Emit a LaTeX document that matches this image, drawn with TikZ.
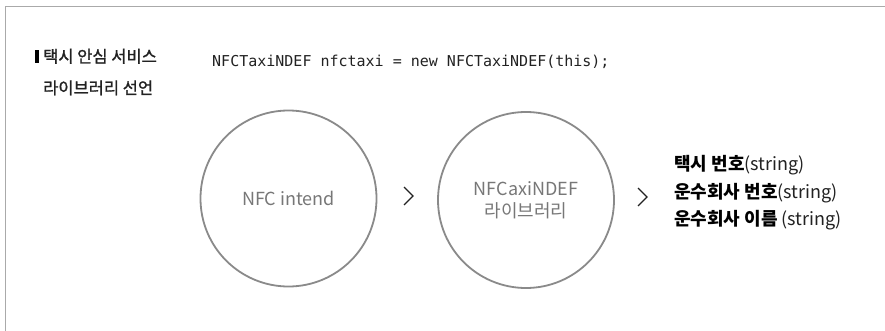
\documentclass[tikz,border=0pt]{standalone}
\usepackage{fontspec}
\usetikzlibrary{calc}
\setmainfont{Noto Sans CJK KR}
\newfontfamily\headfont[FakeBold=1.2]{Noto Sans CJK KR}
\newfontfamily\codefont{DejaVu Sans Mono}
\definecolor{framegray}{HTML}{AAAAAA}
\definecolor{circgray}{HTML}{8A8A8A}
\definecolor{txtgray}{HTML}{777777}
\definecolor{darktxt}{HTML}{222222}
\tikzset{
  bubble/.style={circle, draw=circgray, line width=1.8pt, minimum size=176pt, inner sep=0pt,
                 text=txtgray, font=\fontsize{18}{23}\selectfont, align=center},
  chev/.style={draw=darktxt, line width=1.1pt, line join=miter},
  heading/.style={anchor=base west, inner sep=0pt, text=darktxt, font=\headfont\fontsize{16.5}{20}\selectfont},
  field/.style={anchor=base west, inner sep=0pt, text=black, font=\fontsize{18}{22}\selectfont},
  code/.style={anchor=base west, inner sep=0pt, text=darktxt, font=\codefont\fontsize{15}{18}\selectfont},
}
\begin{document}
\begin{tikzpicture}[x=1pt,y=-1pt]
\useasboundingbox (0,0) rectangle (885,331);
\fill[white] (0,0) rectangle (885,331);
% frame
\coordinate (fc) at (5.5,6.5);
\draw[framegray, line width=1.3pt] (885,6.5) -- (fc) -- (5.5,331);
% heading
\node[fill=black, minimum width=4pt, minimum height=13pt, inner sep=0pt, anchor=north west] (bar) at (35,50) {};
\node[heading] (h1) at (43,62.5) {택시 안심 서비스};
\node[heading] (h2) at (43,94) {라이브러리 선언};
% code
\node[code] (code) at (212,67) {NFCTaxiNDEF nfctaxi = new NFCTaxiNDEF(this);};
% circles
\node[bubble] (c1) at (288.5,198.5) {NFC intend};
\node[bubble] (c2) at (526,200) {NFCaxiNDEF\\[-1pt]라이브러리};
% chevrons
\coordinate (k1) at (413,196);
\coordinate (k2) at (647,197);
\draw[chev] ($(k1)+(-9,-9)$) -- (k1) -- ($(k1)+(-9,9)$);
\draw[chev] ($(k2)+(-9,-9)$) -- (k2) -- ($(k2)+(-9,9)$);
% fields
\node[field] (f1) at (674,171) {\textbf{택시 번호}{\color{darktxt}(string)}};
\node[field] (f2) at (674,198.5) {\textbf{운수회사 번호}{\color{darktxt}(string)}};
\node[field] (f3) at (674,225) {\textbf{운수회사 이름} {\color{darktxt}(string)}};
\end{tikzpicture}
\end{document}
